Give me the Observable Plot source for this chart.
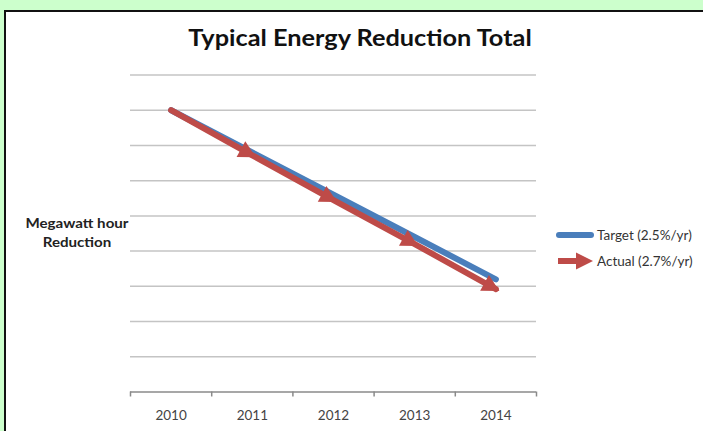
<!DOCTYPE html>
<html>
<head>
<meta charset="utf-8">
<script src="https://cdn.jsdelivr.net/npm/d3@7"></script>
<script src="https://cdn.jsdelivr.net/npm/@observablehq/plot@0.6"></script>
<style>
  html, body { margin: 0; padding: 0; background: #ccffcc; }
  #wrap { position: relative; width: 703px; height: 431px; background: #ccffcc; overflow: hidden; font-family: Lato, "Open Sans", sans-serif; }
  #panel { position: absolute; left: 4px; top: 10px; width: 699px; height: 421px; background: #fff; border-left: 2.5px solid #111; border-top: 2.5px solid #111; box-sizing: border-box; }
  #chart { position: absolute; left: 0; top: 0; }
  #title { position: absolute; left: 0; width: 720px; top: 24px; text-align: center; font-weight: bold; font-size: 22px; color: #111; transform: scaleX(1.15); transform-origin: 360px 0; }
  #ylab { position: absolute; left: 16px; width: 122px; top: 214px; text-align: center; font-weight: bold; font-size: 13.5px; line-height: 19px; color: #222; transform: scaleX(1.12); transform-origin: 61px 0; }
  .leg { position: absolute; left: 556px; font-size: 13.5px; color: #333; display: flex; align-items: center; }
  .leg svg { margin-right: 3px; }
</style>
</head>
<body>
<div id="wrap">
  <div id="panel"></div>
  <div id="chart"></div>
  <div id="title">Typical Energy Reduction Total</div>
  <div id="ylab">Megawatt hour<br>Reduction</div>
  <div class="leg" style="top:226px"><svg width="38" height="18"><line x1="3" y1="9" x2="35" y2="9" stroke="#4a7ebb" stroke-width="6" stroke-linecap="round"/></svg>Target (2.5%/yr)</div>
  <div class="leg" style="top:251px"><svg width="38" height="20"><line x1="2" y1="10" x2="22" y2="10" stroke="#be4b48" stroke-width="6"/><path d="M20,1.5L37,10L20,18.5Z" fill="#be4b48"/></svg>Actual (2.7%/yr)</div>
</div>
<script>
const years = [2010, 2011, 2012, 2013, 2014];
const target = [8.0, 6.8, 5.6, 4.4, 3.2];
const actual = [8.0, 6.72, 5.45, 4.2, 2.92];
const gridValues = [1, 2, 3, 4, 5, 6, 7, 8, 9];
const yearLabels = ["2010", "2011", "2012", "2013", "2014"];

const targetData = years.map((yr, i) => ({year: yr, value: target[i]}));
const actualData = years.map((yr, i) => ({year: yr, value: actual[i]}));
const bounds = [years[0] - 0.5, ...years.map(y => y + 0.5)];

function arrowMarker(color) {
  const ns = "http://www.w3.org/2000/svg";
  const m = document.createElementNS(ns, "marker");
  m.setAttribute("viewBox", "-15 -10 21 20");
  m.setAttribute("markerWidth", "21");
  m.setAttribute("markerHeight", "20");
  m.setAttribute("markerUnits", "userSpaceOnUse");
  m.setAttribute("orient", "auto");
  const p = document.createElementNS(ns, "path");
  p.setAttribute("d", "M-13,-9L4,0L-13,9Z");
  p.setAttribute("fill", color);
  p.setAttribute("stroke", "none");
  m.appendChild(p);
  return m;
}

const chart = Plot.plot({
  width: 703,
  height: 431,
  marginLeft: 130,
  marginRight: 167,
  marginTop: 74.5,
  marginBottom: 39.5,
  style: { background: "transparent", fontFamily: "Lato, sans-serif", fontSize: "13.5px", color: "#444", overflow: "visible" },
  x: { domain: [bounds[0], bounds[bounds.length - 1]] },
  y: { domain: [0, 9], axis: null },
  marks: [
    Plot.gridY(gridValues, { stroke: "#c4c4c4", strokeOpacity: 1, strokeWidth: 1.5 }),
    Plot.ruleY([0], { stroke: "#8a8a8a", strokeWidth: 1.5 }),
    Plot.axisX(bounds, { tickSize: 5, tickFormat: () => "", stroke: "#8a8a8a", strokeWidth: 1.5, label: null }),
    Plot.axisX(years, { tickSize: 0, tickPadding: 18, tickFormat: (d) => yearLabels[years.indexOf(d)], fill: "#444", label: null }),
    Plot.line(targetData, { x: "year", y: "value", stroke: "#4a7ebb", strokeWidth: 6, strokeLinecap: "round", strokeLinejoin: "round" }),
    Plot.line(actualData, { x: "year", y: "value", stroke: "#be4b48", strokeWidth: 6, strokeLinecap: "round", strokeLinejoin: "round", markerMid: arrowMarker, markerEnd: arrowMarker })
  ]
});
document.getElementById("chart").appendChild(chart);
</script>
</body>
</html>
